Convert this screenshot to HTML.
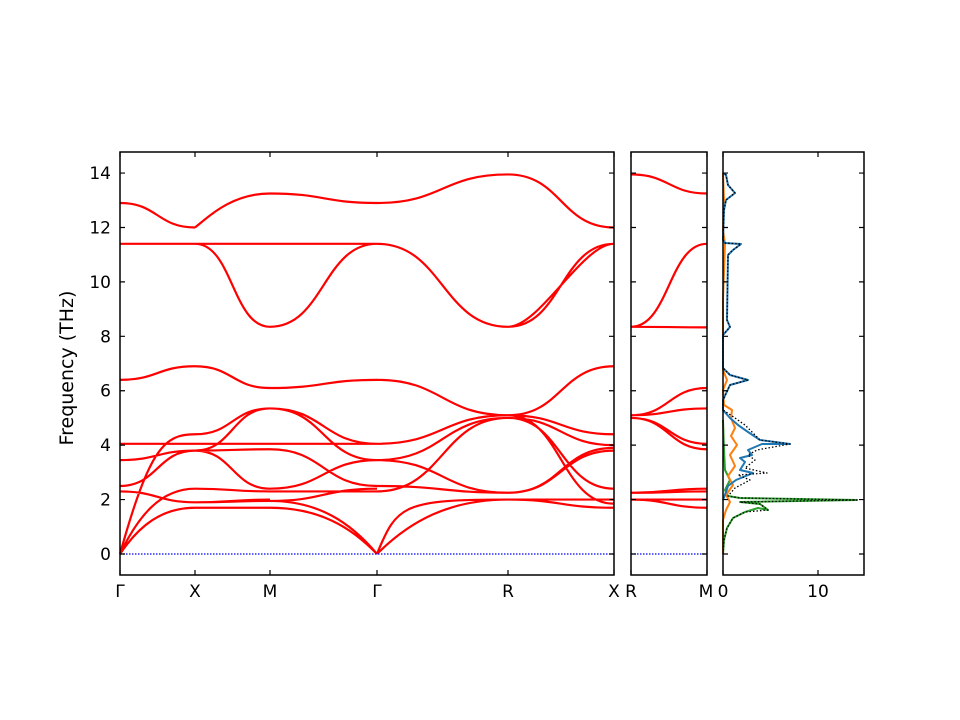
<!DOCTYPE html>
<html><head><meta charset="utf-8"><style>
body{margin:0;background:#fff}
svg{display:block}
text{font-family:"DejaVu Sans","Liberation Sans",sans-serif;font-size:17px;fill:#000}
</style></head><body>
<svg id="s" width="960" height="720" viewBox="0 0 960 720" xmlns="http://www.w3.org/2000/svg">
<rect width="960" height="720" fill="#fff"/>
<g id="bands" fill="none" stroke="#f00" stroke-width="2.2"></g>
<line x1="120" y1="554" x2="614" y2="554" stroke="#00f" stroke-width="1.2" stroke-dasharray="1.5,1.5"/>
<line x1="631" y1="554" x2="707" y2="554" stroke="#00f" stroke-width="1.2" stroke-dasharray="1.5,1.5"/>
<g fill="none" stroke-width="2" stroke-linejoin="round">
<polyline stroke="#2ca02c" points="723,554 724,540 727,528 733,518 745,512 758,508 768,510 760,504 740,502 857,500 740,498 728,496 725,490 730,480 725,470 724,450 723,420"/>
<polyline stroke="#ff7f0e" points="723,554 723,520 726,510 730,502 726,495 733,485 728,476 735,466 730,455 737,445 731,436 735,428 731,418 732,410 724,405 723,390 727,380 723,370 723,300 725,244 723,230 724,200 723,173"/>
<polyline stroke="#1f77b4" points="723,500 726,492 728,486 736,480 753,473 740,470 745,462 740,458 752,455 748,450 762,444 790,444 760,440 748,432 738,425 730,418 723,410 723,400 730,385 748,380 730,375 723,368 723,335 730,327 727,320 728,255 733,250 741,244 725,243 723,240 724,210 726,200 735,193 728,185 726,175 723,173"/>
<polyline stroke="#000" stroke-width="1.3" stroke-dasharray="1.5,2" points="723,554 724,540 727,528 733,518 745,512 768,510 760,504 740,502 857,500 740,498 728,496 735,488 750,480 738,475 767,473 745,468 755,460 748,455 757,450 790,444 760,440 752,432 745,425 735,418 723,410 723,400 730,385 748,380 730,375 723,368 723,335 730,327 727,320 728,255 733,250 741,244 725,243 723,240 724,210 726,200 735,193 728,185 726,175 723,173"/>
</g>
<g fill="none" stroke="#000" stroke-width="1.5">
<rect x="120" y="152" width="494" height="423"/>
<rect x="631" y="152" width="76" height="423"/>
<rect x="723" y="152" width="141" height="423"/>
</g>
<g id="ticks" stroke="#000" stroke-width="1.2"></g>
<g id="lab"></g>
<text x="73" y="368" text-anchor="middle" transform="rotate(-90 73 368)" style="font-size:19px">Frequency (THz)</text>
</svg>
<script>
var NS="http://www.w3.org/2000/svg";
function Y(f){return 554-27.21*f}
var X={G:120,X:195,M:270,G2:377,R:508,X2:614,R2:631,M2:707};
var segs=[
['G',12.9,'X',12.0],['X',12.0,'M',13.25,'k'],['M',13.25,'G2',12.9],['G2',12.9,'R',13.95],['R',13.95,'X2',12.0],['R2',13.95,'M2',13.25],
['G',11.4,'G2',11.4],['X',11.4,'M',8.35],['M',8.35,'G2',11.4],['G2',11.4,'R',8.35],['G2',11.4,'R',8.35],['R',8.35,'X2',11.4],['R',8.35,'X2',11.4,0.3],
['R2',8.35,'M2',8.33],['R2',8.35,'M2',11.4],
['G',6.4,'X',6.9],['X',6.9,'M',6.1],['M',6.1,'G2',6.4],['G2',6.4,'R',5.1],['R',5.1,'X2',6.9],['R2',5.1,'M2',6.1],
['G',0,'X',1.7,'ac'],['G',0,'X',2.4,'ac'],['G',0,'X',4.4,'ac2'],['G',2.3,'X',1.9],['G',2.5,'X',3.8],['G',3.45,'X',3.8],['G',4.05,'X',4.05],
['X',1.7,'M',1.7],['X',1.9,'M',1.95],['X',2.4,'M',2.3],['X',1.9,'M',2.0],['X',3.8,'M',2.4],['X',3.8,'M',5.35],['X',4.4,'M',5.35],['X',4.05,'M',4.05],['X',3.8,'M',3.85],
['M',1.7,'G2',0,'acr'],['M',1.95,'G2',0,'acr'],['M',2.3,'G2',2.3],['M',2.4,'G2',3.45],['M',3.85,'G2',2.5],['M',4.05,'G2',4.05],['M',5.35,'G2',4.05],['M',5.35,'G2',3.45],['M',1.95,'G2',2.4],
['G2',0,'R',2.0,'ac'],['G2',0,'R',2.0,'ac3'],['G2',2.3,'R',5.0],['G2',2.5,'R',2.25],['G2',3.45,'R',2.25],['G2',3.45,'R',5.0],['G2',4.05,'R',5.1],['G2',4.05,'R',5.1],
['R',2.0,'X2',1.7],['R',2.0,'X2',2.0],['R',2.25,'X2',3.8],['R',2.25,'X2',3.9],['R',5.0,'X2',4.0],['R',5.0,'X2',2.4],['R',5.1,'X2',4.4],['R',5.1,'X2',1.85],
['R2',2.0,'M2',1.7],['R2',2.0,'M2',2.0],['R2',2.25,'M2',2.3],['R2',2.25,'M2',2.4],['R2',5.0,'M2',3.85],['R2',5.0,'M2',4.05],['R2',5.1,'M2',5.35],['R2',5.1,'M2',5.35]
];
var g=document.getElementById('bands'),d='';
segs.forEach(function(s){
 var x1=X[s[0]],y1=Y(s[1]),x2=X[s[2]],y2=Y(s[3]),dx=x2-x1,o=s[4];
 if(o==='ac'){d+='M'+x1+' '+y1+'C'+(x1+dx*0.25)+' '+(y1-(y1-y2)*0.6)+' '+(x1+dx*0.55)+' '+y2+' '+x2+' '+y2;}
 else if(o==='ac2'){d+='M'+x1+' '+y1+'C'+(x1+dx*0.4)+' '+(y1-(y1-y2)*0.9)+' '+(x1+dx*0.6)+' '+y2+' '+x2+' '+y2;}
 else if(o==='ac3'){d+='M'+x1+' '+y1+'C'+(x1+dx*0.15)+' '+(y1-(y1-y2)*0.9)+' '+(x1+dx*0.2)+' '+y2+' '+x2+' '+y2;}
 else if(o==='acr'){d+='M'+x1+' '+y1+'C'+(x1+dx*0.45)+' '+y1+' '+(x1+dx*0.75)+' '+(y2-(y2-y1)*0.6)+' '+x2+' '+y2;}
 else if(o==='k'){d+='M'+x1+' '+y1+'C'+(x1+dx*0.2)+' '+(y1-12)+' '+(x2-dx*0.5)+' '+y2+' '+x2+' '+y2;}
 else {var k=(typeof o==='number')?o:0.5;d+='M'+x1+' '+y1+'C'+(x1+dx*k)+' '+y1+' '+(x2-dx*k)+' '+y2+' '+x2+' '+y2;}
});
var p=document.createElementNS(NS,'path');p.setAttribute('d',d);g.appendChild(p);
var t=document.getElementById('ticks'),l=document.getElementById('lab'),td='';
for(var f=0;f<=14;f+=2){var y=Y(f);
 [[120,614],[631,707],[723,864]].forEach(function(a){td+='M'+a[0]+' '+y+'h5M'+a[1]+' '+y+'h-5';});
 var tx=document.createElementNS(NS,'text');tx.setAttribute('x',111);tx.setAttribute('y',y+6);tx.setAttribute('text-anchor','end');tx.textContent=f;l.appendChild(tx);}
[120,195,270,377,508,614,631,707].forEach(function(x){td+='M'+x+' 575v-5M'+x+' 152v5';});
[723,818].forEach(function(x){td+='M'+x+' 575v-5M'+x+' 152v5';});
var tp=document.createElementNS(NS,'path');tp.setAttribute('d',td);t.appendChild(tp);
[['Γ',120],['X',195],['M',270],['Γ',377],['R',508],['X',614],['R',631],['M',706],['0',723],['10',818]].forEach(function(a){
 var tx=document.createElementNS(NS,'text');tx.setAttribute('x',a[1]);tx.setAttribute('y',597);tx.setAttribute('text-anchor','middle');tx.textContent=a[0];l.appendChild(tx);});
</script>
</body></html>
